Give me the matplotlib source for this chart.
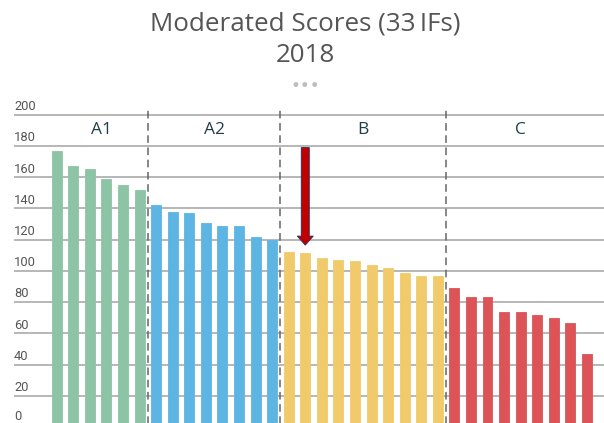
import matplotlib.pyplot as plt

# Moderated scores per group
groups = ["A1", "A2", "B", "C"]
a1 = [177, 167, 165, 159, 155, 152]
a2 = [142, 138, 137, 131, 129, 129, 121.5, 120]
b = [112, 111.5, 108, 107, 106.5, 104, 102, 98.5, 97, 96.5]
c = [89, 83, 83, 73.5, 73.5, 71.5, 70, 66.5, 46.5]
colors = ["#8ec4a6", "#5db5e3", "#f1cb6b", "#dc5458"]
yticks = [0, 20, 40, 60, 80, 100, 120, 140, 160, 180, 200]

fig = plt.figure(figsize=(6.04, 4.23), dpi=100)
ax = fig.add_axes([14 / 604, -4 / 423, 590 / 604, 320 / 423])

# bars, group by group
start = 0
bounds = []
for name, vals, col in zip(groups, [a1, a2, b, c], colors):
    xs = list(range(start, start + len(vals)))
    ax.bar(xs, vals, width=0.6, color=col, edgecolor=col, linewidth=0.6, zorder=3)
    ax.text((xs[0] + xs[-1]) / 2 + (0.2 if name == "A1" else 0), 190, name,
            ha="center", va="center", fontsize=12.5, color="#1e3f4a",
            family="Open Sans", zorder=5)
    start += len(vals)
    bounds.append(start - 0.5)

# dashed separators between groups
for xb in bounds[:-1]:
    ax.vlines(xb, 0, 204, colors="#666666", linestyles=(0, (5, 3)), linewidth=1.1, zorder=4)

# horizontal grid and left labels above each line
for v in yticks:
    ax.axhline(v, color="#a3a3a3", linewidth=1.1, zorder=1)
    # the bottom label sits right at the picture edge, lift it a little
    off = 4.2 if v == 0 else 3.0
    ax.text(-2.58, v + off, str(v), ha="left", va="baseline",
            fontsize=9.3, color="#555555", family="Roboto")

# red arrow pointing at the second B bar
ax.annotate("", xy=(15, 116.5), xytext=(15, 179),
            arrowprops=dict(arrowstyle="simple,head_width=1.15,head_length=0.65,tail_width=0.58",
                            mutation_scale=10, fc="#c00000", ec="#2b2d5c", lw=0.6,
                            shrinkA=0, shrinkB=0), zorder=6)

ax.set_xlim(-2.58, 33.03)
ax.set_ylim(0, 205)
ax.axis("off")

fig.text(305 / 604, 1 - 24 / 423, "Moderated Scores (33\u2009IFs)", ha="center", va="center",
         fontsize=18.7, color="#555555", family="Open Sans")
fig.text(305 / 604, 1 - 56 / 423, "2018", ha="center", va="center",
         fontsize=18.7, color="#555555", family="Open Sans")
fig.text(305 / 604, 1 - 86 / 423, "\u2022\u2022\u2022", ha="center", va="center",
         fontsize=12, color="#bdbdbd")

fig.savefig("out.png", dpi=100)
